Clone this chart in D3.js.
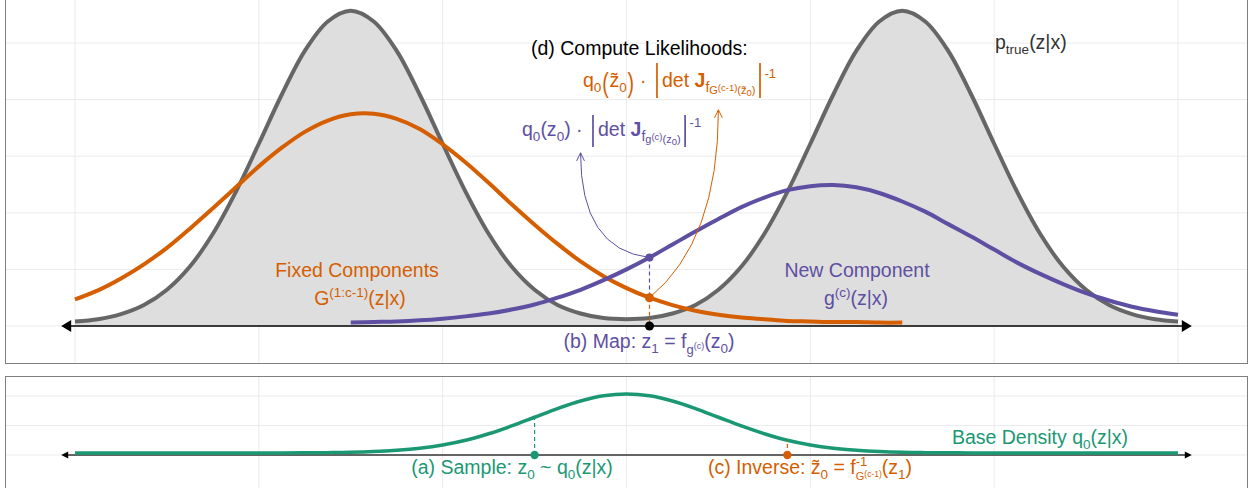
<!DOCTYPE html>
<html><head><meta charset="utf-8">
<script src="https://cdn.jsdelivr.net/npm/d3@7"></script>
<style>
body{margin:0;background:#fff}
svg{display:block}
text{font-family:"Liberation Sans",Arial,Helvetica,sans-serif;white-space:pre}
</style>
</head><body>
<svg id="c" width="1248" height="488"></svg>
<script>
// ---------- data ----------
const xGrid = [-6,-5.75,-5.5,-5.25,-5,-4.75,-4.5,-4.25,-4,-3.75,-3.5,-3.25,-3,-2.75,-2.5,-2.25,-2,-1.75,-1.5,-1.25,-1,-0.75,-0.5,-0.25,0,
  0.25,0.5,0.75,1,1.25,1.5,1.75,2,2.25,2.5,2.75,3,3.25,3.5,3.75,4,4.25,4.5,4.75,5,5.25,5.5,5.75,6];
// target density p_true(z|x)  (x = -6 .. 6)
const pTrue = [0.08,0.12,0.21,0.37,0.64,1.05,1.63,2.37,3.22,4.09,4.86,5.38,5.57,5.38,4.86,4.09,3.22,2.37,1.63,1.05,0.64,0.37,0.22,0.14,0.12,
  0.14,0.22,0.37,0.64,1.05,1.63,2.37,3.22,4.09,4.86,5.38,5.57,5.38,4.86,4.09,3.22,2.37,1.63,1.05,0.64,0.37,0.21,0.12,0.08];
// fixed components G^(1:c-1)(z|x)  (x = -6 .. 3)
const fixedX = [-6,-5.75,-5.5,-5.25,-5,-4.75,-4.5,-4.25,-4,-3.75,-3.5,-3.25,-3,-2.75,-2.5,-2.25,-2,-1.75,-1.5,-1.25,-1,-0.75,-0.5,-0.25,0,
  0.25,0.5,0.75,1,1.25,1.5,1.75,2,2.25,2.5,2.75,3];
const fixedY = [0.47,0.63,0.84,1.09,1.38,1.72,2.08,2.45,2.82,3.15,3.43,3.63,3.74,3.75,3.66,3.48,3.21,2.89,2.53,2.15,1.79,1.45,1.14,0.88,0.67,
  0.50,0.37,0.27,0.20,0.15,0.12,0.09,0.08,0.07,0.07,0.06,0.06];
// new component g^(c)(z|x)  (x = -3 .. 6)
const newX = [-3,-2.75,-2.5,-2.25,-2,-1.75,-1.5,-1.25,-1,-0.75,-0.5,-0.25,0,
  0.25,0.5,0.75,1,1.25,1.5,1.75,2,2.25,2.5,2.75,3,3.25,3.5,3.75,4,4.25,4.5,4.75,5,5.25,5.5,5.75,6];
const newY = [0.06,0.07,0.08,0.10,0.13,0.17,0.22,0.29,0.38,0.50,0.64,0.81,1.00,
  1.21,1.44,1.67,1.89,2.10,2.27,2.40,2.47,2.49,2.45,2.35,2.20,2.02,1.80,1.58,1.35,1.12,0.92,0.74,0.58,0.45,0.34,0.26,0.20];
// base density q0(z|x)  (x = -6 .. 6)
const baseY = [0.014,0.014,0.014,0.014,0.014,0.014,0.014,0.014,0.014,0.014,0.015,0.016,0.018,0.023,0.032,0.046,0.068,0.100,0.144,0.197,0.256,0.315,0.366,0.401,0.413,
  0.401,0.366,0.315,0.256,0.197,0.144,0.100,0.068,0.046,0.032,0.023,0.018,0.016,0.015,0.014,0.014,0.014,0.014,0.014,0.014,0.014,0.014,0.014,0.014];
// key points
const z0 = -1, z0base = 0.256;             // sample
const z1 = 0.25, z1new = 1.21, z1fixed = 0.50; // map
const zt0 = 1.75, zt0base = 0.100;         // inverse
// annotation arrows [start, control, tip] in data units
const arrowNew   = [[0.25,1.21],[-0.5,1.35],[-0.5,3.06]];
const arrowFixed = [[0.25,0.50],[1.0,1.5],[1.0,3.82]];
const axisEnds = [-6.15, 6.15];
const topVGrid = [-6,-4,-2,0,2,4,6], topHGrid = [0,1,2,3,4,5];
const botVGrid = [-4,-2,0,2,4], botHGrid = [0,0.2,0.4];

const ORANGE = "#D55E00", PURPLE = "#5E4FA2", GREEN = "#1B9873", GRAYL = "#666666";

// ---------- scales ----------
const svg = d3.select("#c");
const x = d3.scaleLinear().domain([-6,6]).range([75,1178]);
const yT = d3.scaleLinear().domain([0,5]).range([326,43]);
const yB = d3.scaleLinear().domain([0,0.4]).range([455,396]);

// ---------- panels ----------
function panel(top, bot, vg, hg, yS){
  const g = svg.append("g");
  g.selectAll(".v").data(vg).join("line").attr("x1",d=>x(d)).attr("x2",d=>x(d))
    .attr("y1",top).attr("y2",bot).attr("stroke","#ebebeb").attr("stroke-width",1);
  g.selectAll(".h").data(hg).join("line").attr("x1",5.5).attr("x2",1247.5)
    .attr("y1",d=>yS(d)).attr("y2",d=>yS(d)).attr("stroke","#ebebeb").attr("stroke-width",1);
  return g;
}
panel(-5, 363, topVGrid, topHGrid, yT);
panel(377, 495, botVGrid, botHGrid, yB);

const B = 19.5;
// rich text: segments are [text, size, baselineShift, opts] or {gap, draw, ...}
function rich(x0, y0, anchor, color, segs){
  const t = svg.append("text").attr("x",x0).attr("y",y0).attr("text-anchor",anchor).attr("fill",color);
  let cur = 0, pending = null;
  const recs = [];
  segs.forEach(s=>{
    if(!Array.isArray(s)){ pending = s; return; }
    const [txt,size,shift,opt] = s;
    const ts = t.append("tspan").attr("font-size",size).attr("dy",shift-cur).text(txt);
    if(opt && opt.bold) ts.attr("font-weight","bold");
    let dx = (opt && opt.dx) ? opt.dx : 0;
    if(pending){ dx += pending.gap; recs.push({spec:pending, ts}); pending = null; }
    if(dx) ts.attr("dx",dx);
    cur = shift;
  });
  recs.forEach(r=>{
    const xs = r.ts.node().getStartPositionOfChar(0).x;
    const cx = xs - r.spec.gap/2;
    if(r.spec.draw === "bar"){
      svg.append("line").attr("x1",cx).attr("x2",cx).attr("y1",y0+r.spec.top).attr("y2",y0+r.spec.bot)
        .attr("stroke",color).attr("stroke-width",1.7);
    } else {
      svg.append("text").attr("transform",`translate(${cx},${y0+5}) scale(1,1.4)`)
        .attr("text-anchor","middle").attr("font-size",B).attr("fill",color).text(r.spec.ch);
    }
  });
  return t;
}

// ---------- top panel curves ----------
const curve = d3.curveCatmullRom.alpha(0.5);
const topData = xGrid.map((d,i)=>[d,pTrue[i]]);
svg.append("path").datum(topData)
  .attr("d", d3.area().x(d=>x(d[0])).y0(yT(0)).y1(d=>yT(d[1])).curve(curve))
  .attr("fill","#dedede");
svg.append("path").datum(topData)
  .attr("d", d3.line().x(d=>x(d[0])).y(d=>yT(d[1])).curve(curve))
  .attr("fill","none").attr("stroke",GRAYL).attr("stroke-width",4);
svg.append("path").datum(fixedX.map((d,i)=>[d,fixedY[i]]))
  .attr("d", d3.line().x(d=>x(d[0])).y(d=>yT(d[1])).curve(curve))
  .attr("fill","none").attr("stroke",ORANGE).attr("stroke-width",4);
svg.append("path").datum(newX.map((d,i)=>[d,newY[i]]))
  .attr("d", d3.line().x(d=>x(d[0])).y(d=>yT(d[1])).curve(curve))
  .attr("fill","none").attr("stroke",PURPLE).attr("stroke-width",4);

// axis with arrows
function axisArrow(yS, len, half, col, w){
  const y0 = yS(0);
  const a = x(axisEnds[0]), b = x(axisEnds[1]);
  svg.append("line").attr("x1",a+len-1).attr("x2",b-len+1).attr("y1",y0).attr("y2",y0)
    .attr("stroke",col).attr("stroke-width",w);
  svg.append("path").attr("d",`M${a},${y0}L${a+len},${y0-half}L${a+len},${y0+half}Z`).attr("fill","#000");
  svg.append("path").attr("d",`M${b},${y0}L${b-len},${y0-half}L${b-len},${y0+half}Z`).attr("fill","#000");
}
axisArrow(yT, 10, 6, "#000", 1.6);

// dashed connectors
svg.append("line").attr("x1",x(z1)).attr("x2",x(z1)).attr("y1",yT(z1new)).attr("y2",yT(z1fixed))
  .attr("stroke",PURPLE).attr("stroke-width",1.2).attr("stroke-dasharray","4,3");
svg.append("line").attr("x1",x(z1)).attr("x2",x(z1)).attr("y1",yT(z1fixed)).attr("y2",yT(0))
  .attr("stroke",ORANGE).attr("stroke-width",1.2).attr("stroke-dasharray","4,3");

// curved annotation arrows
function curvedArrow(pts, col){
  const p = pts.map(d=>[x(d[0]), yT(d[1])]);
  svg.append("path").attr("d",`M${p[0][0]},${p[0][1]}Q${p[1][0]},${p[1][1]} ${p[2][0]},${p[2][1]}`)
    .attr("fill","none").attr("stroke",col).attr("stroke-width",1);
  const dx = p[2][0]-p[1][0], dy = p[2][1]-p[1][1], L = Math.hypot(dx,dy);
  const ux = dx/L, uy = dy/L, len = 9, ang = 0.45;
  const h = s=>{
    const c = Math.cos(s*ang), sn = Math.sin(s*ang);
    const rx = -(ux*c - uy*sn), ry = -(ux*sn + uy*c);
    return [p[2][0]+rx*len, p[2][1]+ry*len];
  };
  const l = h(1), r = h(-1);
  svg.append("path").attr("d",`M${l[0]},${l[1]}L${p[2][0]},${p[2][1]}L${r[0]},${r[1]}`)
    .attr("fill","none").attr("stroke",col).attr("stroke-width",1);
}
curvedArrow(arrowNew, PURPLE);
curvedArrow(arrowFixed, ORANGE);

// points
svg.append("circle").attr("cx",x(z1)).attr("cy",yT(z1new)).attr("r",4).attr("fill",PURPLE);
svg.append("circle").attr("cx",x(z1)).attr("cy",yT(z1fixed)).attr("r",4.5).attr("fill",ORANGE);
svg.append("circle").attr("cx",x(z1)).attr("cy",yT(0)).attr("r",4.5).attr("fill","#000");

// ---------- top texts ----------
rich(531, 55, "start", "#000", [["(d) Compute Likelihoods:",B,0]]);
rich(583, 87, "start", ORANGE, [
  ["q",B,0],["0",13.5,5],{gap:8,draw:"paren",ch:"("},["z\u0303",B,0],["0",13.5,5],{gap:8,draw:"paren",ch:")"},[" \u00b7 ",B,0],
  {gap:10,draw:"bar",top:-24,bot:11},["det ",B,0],["J",B,0,{bold:true}],["f",14,5],["G",11,7],["(c-1)",9.5,4],["(z\u0303",11,7],["0",9.5,9],[")",11,7],
  {gap:9,draw:"bar",top:-24,bot:11},["-1",13,-9]]);
rich(522, 136, "start", PURPLE, [
  ["q",B,0],["0",13.5,5],["(z",B,0],["0",13.5,5],[")",B,0],[" \u00b7 ",B,0],
  {gap:10,draw:"bar",top:-21,bot:11},["det ",B,0],["J",B,0,{bold:true}],["f",14,5],["g",11,7],["(c)",9.5,4],["(z",11,7],["0",9.5,9],[")",11,7],
  {gap:9,draw:"bar",top:-21,bot:11},["-1",13,-9]]);
rich(357, 277, "middle", ORANGE, [["Fixed Components",B,0]]);
rich(360, 305, "middle", ORANGE, [["G",B,0],["(1:c-1)",13.5,-8],["(z|x)",B,0]]);
rich(857, 277, "middle", PURPLE, [["New Component",B,0]]);
rich(856, 305, "middle", PURPLE, [["g",B,0],["(c)",13.5,-8],["(z|x)",B,0]]);
rich(995, 49, "start", "#333", [["p",B,0],["true",13.5,5],["(z|x)",B,0]]);
rich(649, 348, "middle", PURPLE, [["(b) Map: z",B,0],["1",13.5,5],[" = f",B,0],["g",13,6],["(c)",9,1],["(z",B,0],["0",13.5,5],[")",B,0]]);

// ---------- bottom panel ----------
const botData = xGrid.map((d,i)=>[d,baseY[i]]);
axisArrow(yB, 7, 3.5, "#333", 1.5);
svg.append("path").datum(botData)
  .attr("d", d3.line().x(d=>x(d[0])).y(d=>yB(d[1])).curve(curve))
  .attr("fill","none").attr("stroke",GREEN).attr("stroke-width",3.5);
svg.append("line").attr("x1",x(z0)).attr("x2",x(z0)).attr("y1",yB(0)).attr("y2",yB(z0base))
  .attr("stroke",GREEN).attr("stroke-width",1.2).attr("stroke-dasharray","4,3");
svg.append("line").attr("x1",x(zt0)).attr("x2",x(zt0)).attr("y1",yB(0)).attr("y2",yB(zt0base))
  .attr("stroke",ORANGE).attr("stroke-width",1.2).attr("stroke-dasharray","4,3");
svg.append("circle").attr("cx",x(z0)).attr("cy",yB(0)).attr("r",4.2).attr("fill",GREEN);
svg.append("circle").attr("cx",x(zt0)).attr("cy",yB(0)).attr("r",4.2).attr("fill",ORANGE);

rich(512, 474, "middle", GREEN, [["(a) Sample: z",B,0],["0",13.5,5],[" ~ q",B,0],["0",13.5,5],["(z|x)",B,0]]);
rich(810, 474, "middle", ORANGE, [["(c) Inverse: z\u0303",B,0],["0",13.5,5],[" = f",B,0],["-1",13,-8],["G",11,6,{dx:-11.6}],["(c-1)",8.5,3],["(z",B,0],["1",13.5,5],[")",B,0]]);
rich(1040, 444, "middle", GREEN, [["Base Density q",B,0],["0",13.5,5],["(z|x)",B,0]]);

// panel borders
svg.append("rect").attr("x",5.5).attr("y",-5).attr("width",1242).attr("height",368.5)
  .attr("fill","none").attr("stroke","#7f7f7f").attr("stroke-width",1);
svg.append("rect").attr("x",5.5).attr("y",376.5).attr("width",1242).attr("height",120)
  .attr("fill","none").attr("stroke","#7f7f7f").attr("stroke-width",1);
</script>
</body></html>
